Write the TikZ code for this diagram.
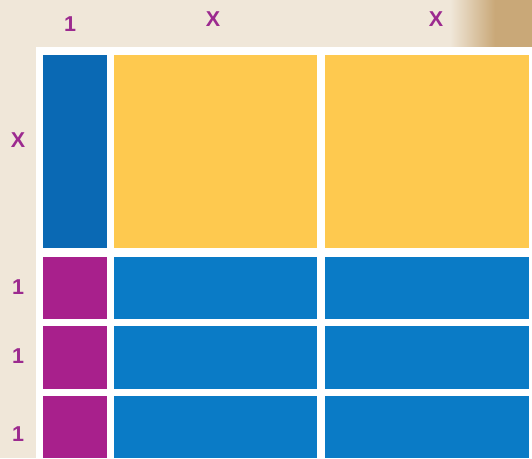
\documentclass[tikz,border=0pt]{standalone}
\usepackage{fontspec}
\setmainfont{Liberation Sans}
\usepackage{tikz}
\usetikzlibrary{positioning,calc}
\usepackage{xcolor}
\definecolor{parch}{HTML}{F0E7D9}
\definecolor{parchdark}{HTML}{C9A878}
\definecolor{tileyel}{HTML}{FEC94F}
\definecolor{tileblue}{HTML}{0A7BC6}
\definecolor{tilebluedk}{HTML}{0A69B4}
\definecolor{tileplum}{HTML}{A8208C}
\definecolor{labplum}{HTML}{9C2A8F}

\tikzset{
  tile/.style={inner sep=0pt,outer sep=0pt,anchor=north west},
  lab/.style={font=\bfseries\fontsize{21.5}{23}\selectfont,text=labplum,inner sep=0pt}
}

\begin{document}
\begin{tikzpicture}[x=1pt,y=-1pt]
% parchment and board
\fill[parch] (0,0) rectangle (532,458);
\shade[left color=parch,right color=parchdark] (450,0) rectangle (495,47);
\fill[parchdark] (495,0) rectangle (532,47);
\useasboundingbox (0,0) rectangle (532,458);
\fill[white] (36,47) rectangle (532,458);
% x-tile column and x^2 tiles
\node[tile,fill=tilebluedk,minimum width=64pt,minimum height=193pt] (xcol) at (43,55) {};
\node[tile,fill=tileyel,minimum width=203pt,minimum height=193pt] (sqa) at (114,55) {};
\node[tile,fill=tileyel,minimum width=204pt,minimum height=193pt] (sqb) at (325,55) {};
% unit rows
\node[tile,fill=tileplum,minimum width=64pt,minimum height=62pt] (unita) at (43,257) {};
\node[tile,fill=tileblue,minimum width=203pt,minimum height=62pt] (rowaa) at (114,257) {};
\node[tile,fill=tileblue,minimum width=204pt,minimum height=62pt] (rowab) at (325,257) {};
\node[tile,fill=tileplum,minimum width=64pt,minimum height=63pt] (unitb) at (43,326) {};
\node[tile,fill=tileblue,minimum width=203pt,minimum height=63pt] (rowba) at (114,326) {};
\node[tile,fill=tileblue,minimum width=204pt,minimum height=63pt] (rowbb) at (325,326) {};
\node[tile,fill=tileplum,minimum width=64pt,minimum height=62pt] (unitc) at (43,396) {};
\node[tile,fill=tileblue,minimum width=203pt,minimum height=62pt] (rowca) at (114,396) {};
\node[tile,fill=tileblue,minimum width=204pt,minimum height=62pt] (rowcb) at (325,396) {};
% side labels
\node[lab] (topone) at (70,24) {1};
\node[lab] (topxa) at (213,19) {X};
\node[lab] (topxb) at (436,19) {X};
\node[lab] (leftx) at (18,140) {X};
\node[lab] (lefta) at (18,287) {1};
\node[lab] (leftb) at (18,356) {1};
\node[lab] (leftc) at (18,434) {1};
\end{tikzpicture}
\end{document}
